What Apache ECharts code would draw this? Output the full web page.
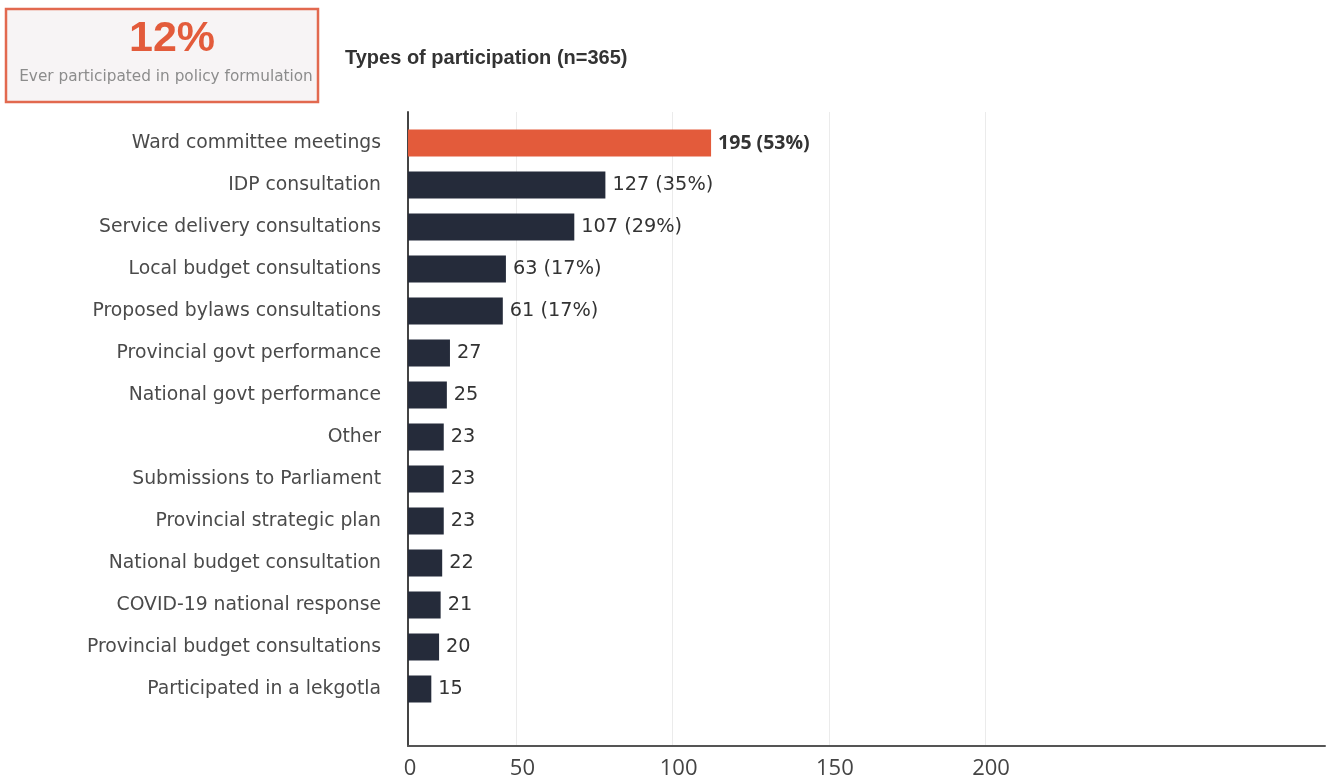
<!DOCTYPE html>
<html>
<head>
<meta charset="utf-8">
<title>Types of participation</title>
<script src="https://cdn.jsdelivr.net/npm/echarts@6/dist/echarts.min.js"></script>
<style>
  html, body { margin: 0; padding: 0; background: #ffffff; }
  #chart { width: 1331px; height: 780px; }
</style>
</head>
<body>
<div id="chart"></div>
<script>
// Participation types, listed top to bottom
const categories = [
  'Ward committee meetings',
  'IDP consultation',
  'Service delivery consultations',
  'Local budget consultations',
  'Proposed bylaws consultations',
  'Provincial govt performance',
  'National govt performance',
  'Other',
  'Submissions to Parliament',
  'Provincial strategic plan',
  'National budget consultation',
  'COVID-19 national response',
  'Provincial budget consultations',
  'Participated in a lekgotla'
];

// Number of respondents per participation type (n=365)
const counts = [195, 127, 107, 63, 61, 27, 25, 23, 23, 23, 22, 21, 20, 15];

// Share of respondents, shown only for the leading types
const shares = [53, 35, 29, 17, 17, null, null, null, null, null, null, null, null, null];

// Labels printed along the bottom axis
const axisTickLabels = [0, 50, 100, 150, 200];

// Headline figure in the callout box
const headlineValue = '12%';
const headlineCaption = 'Ever participated in policy formulation';
const chartTitle = 'Types of participation (n=365)';

const ORANGE = '#e35b3b';
const NAVY = '#252b3a';
const LABEL_FONT = '"DejaVu Sans", sans-serif';

const chart = echarts.init(document.getElementById('chart'), null, { renderer: 'canvas' });

const barData = counts.map((v, i) => ({
  value: v,
  itemStyle: { color: i === 0 ? ORANGE : NAVY },
  label: i === 0 ? { fontWeight: 'bold', fontFamily: 'Open Sans', fontSize: 19.5 } : {}
}));

const option = {
  backgroundColor: '#ffffff',
  animation: false,
  graphic: [
    {
      type: 'rect',
      shape: { x: 6, y: 9, width: 312, height: 93 },
      style: { fill: '#f7f4f5', stroke: '#e2694f', lineWidth: 2.5 }
    },
    {
      type: 'text',
      x: 172, y: 39,
      style: {
        text: headlineValue,
        fill: ORANGE,
        font: 'bold 43px "Liberation Sans", Arial, sans-serif',
        align: 'center',
        verticalAlign: 'middle'
      }
    },
    {
      type: 'text',
      x: 166, y: 77,
      style: {
        text: headlineCaption,
        fill: '#8c8c8c',
        font: '15.3px "DejaVu Sans", sans-serif',
        align: 'center',
        verticalAlign: 'middle'
      }
    },
    {
      type: 'text',
      x: 345, y: 58,
      style: {
        text: chartTitle,
        fill: '#333333',
        font: 'bold 20px "Liberation Sans", Arial, sans-serif',
        align: 'left',
        verticalAlign: 'middle'
      }
    }
  ],
  grid: [
    { left: 408, width: 917, top: 122, height: 588 },
    { left: 408, width: 917, top: 112, bottom: 31 }
  ],
  xAxis: [
    // scale used by the bars
    { gridIndex: 0, type: 'value', min: 0, max: 590, show: false },
    // baseline with the zero label
    {
      gridIndex: 1, type: 'value', min: 0, max: 590, position: 'bottom',
      axisLine: { show: true, lineStyle: { color: '#555555', width: 2 } },
      axisTick: { show: false },
      splitLine: { show: false },
      axisLabel: {
        customValues: [axisTickLabels[0]],
        color: '#444444', fontFamily: 'Open Sans', fontSize: 22, margin: 12,
        padding: [0, 0, 0, 4]
      }
    },
    // printed tick labels and gridlines
    {
      gridIndex: 1, type: 'value', min: 15.3, max: 308.8, position: 'bottom',
      axisLine: { show: false },
      axisTick: { show: false, customValues: axisTickLabels.slice(1) },
      splitLine: { show: true, lineStyle: { color: '#ebebeb', width: 1 } },
      axisLabel: {
        customValues: axisTickLabels.slice(1),
        color: '#444444', fontFamily: 'Open Sans', fontSize: 22, margin: 12,
        padding: [0, 0, 0, 12]
      }
    }
  ],
  yAxis: [
    {
      gridIndex: 0, type: 'category', inverse: true, data: categories,
      axisLine: { show: false },
      axisTick: { show: false },
      splitLine: { show: false },
      axisLabel: {
        margin: 27, color: '#4a4a4a', fontFamily: LABEL_FONT, fontSize: 18.8
      }
    },
    {
      gridIndex: 1, type: 'value', min: 0, max: 1,
      axisLine: { show: true, lineStyle: { color: '#444444', width: 2 } },
      axisTick: { show: false },
      axisLabel: { show: false },
      splitLine: { show: false }
    }
  ],
  series: [
    {
      type: 'bar',
      xAxisIndex: 0,
      yAxisIndex: 0,
      barWidth: 27,
      data: barData,
      label: {
        show: true,
        position: 'right',
        distance: 7,
        color: '#333333',
        fontFamily: LABEL_FONT,
        fontSize: 19.3,
        formatter: (p) => {
          const s = shares[p.dataIndex];
          return s == null ? String(p.value) : p.value + ' (' + s + '%)';
        }
      }
    }
  ]
};

chart.setOption(option);
</script>
</body>
</html>
